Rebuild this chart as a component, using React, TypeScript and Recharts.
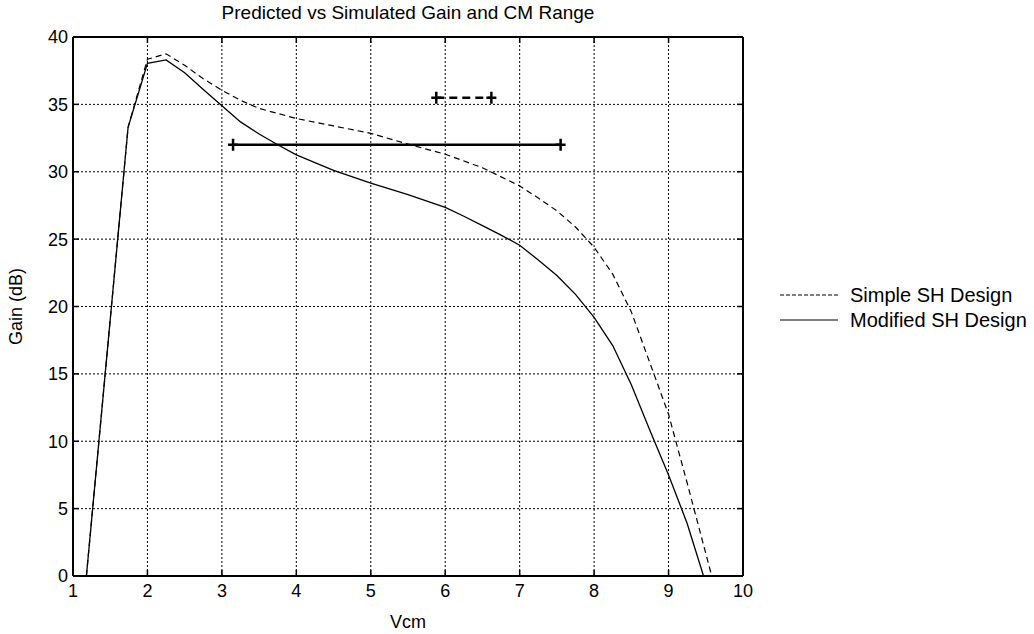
import React from 'react';
import { LineChart, Line, XAxis, YAxis, CartesianGrid, Legend, Label } from 'recharts';

const xTicks = [1, 2, 3, 4, 5, 6, 7, 8, 9, 10];
const yTicks = [0, 5, 10, 15, 20, 25, 30, 35, 40];

const simpleVcm = [1.18, 1.74, 2, 2.25, 2.5, 2.75, 3, 3.25, 3.5, 4, 4.5, 5, 5.5, 6, 6.5, 7, 7.25, 7.5, 7.75, 8, 8.25, 8.5, 8.75, 9, 9.25, 9.58];
const simpleGain = [0, 33.3, 38.35, 38.75, 37.9, 36.9, 36.05, 35.3, 34.7, 33.95, 33.4, 32.85, 32.05, 31.3, 30.3, 28.95, 28.05, 27.1, 25.9, 24.4, 22.4, 19.6, 15.8, 12.0, 6.9, 0];

const modifiedVcm = [1.18, 1.74, 2, 2.25, 2.5, 2.75, 3, 3.25, 3.5, 3.75, 4, 4.5, 5, 5.5, 6, 6.25, 6.5, 6.75, 7, 7.25, 7.5, 7.75, 8, 8.25, 8.5, 8.75, 9, 9.25, 9.47];
const modifiedGain = [0, 33.3, 38.05, 38.3, 37.35, 36.1, 34.9, 33.7, 32.8, 32.0, 31.25, 30.1, 29.15, 28.3, 27.35, 26.7, 26.0, 25.3, 24.55, 23.45, 22.3, 20.9, 19.2, 17.1, 14.2, 10.8, 7.5, 3.9, 0];

const simpleRangeVcm = [5.88, 6.62];
const simpleRangeGain = [35.5, 35.5];
const modifiedRangeVcm = [3.15, 7.55];
const modifiedRangeGain = [32, 32];

const seriesNames = ['Simple SH Design', 'Modified SH Design'];

const toRows = (xs: number[], ys: number[]) => xs.map((x, i) => ({ x, y: ys[i] }));

const simpleData = toRows(simpleVcm, simpleGain);
const modifiedData = toRows(modifiedVcm, modifiedGain);
const simpleRange = toRows(simpleRangeVcm, simpleRangeGain);
const modifiedRange = toRows(modifiedRangeVcm, modifiedRangeGain);

const PlusDot = (props: any) => {
  const { cx, cy } = props;
  if (cx == null || cy == null) return null;
  return (
    <path
      d={`M${cx - 5},${cy}h10M${cx},${cy - 6}v12`}
      stroke="#000"
      strokeWidth={2.5}
      strokeDasharray="none"
      fill="none"
    />
  );
};

const dashFor: Record<string, string> = {
  'Simple SH Design': '4 2',
  'Modified SH Design': 'none',
};

const LegendContent = (props: any) => {
  const items = (props.payload || [])
    .filter((p: any) => seriesNames.includes(p.value))
    .sort((a: any, b: any) => seriesNames.indexOf(a.value) - seriesNames.indexOf(b.value));
  return (
    <svg width={254} height={60}>
      {items.map((p: any, i: number) => (
        <g key={p.value}>
          <line x1={0} x2={58} y1={12 + i * 25} y2={12 + i * 25} stroke="#000" strokeWidth={1.2} strokeDasharray={dashFor[p.value]} />
          <text x={70} y={12 + i * 25} dy="0.35em" fontSize={20} fill="#000">{p.value}</text>
        </g>
      ))}
    </svg>
  );
};

const axisLine = { stroke: '#000', strokeWidth: 2 };
const tickLine = { stroke: '#000', strokeWidth: 1.5 };
const blank = () => '';

export default function App() {
  return (
    <div style={{ position: 'absolute', left: 0, top: 0, width: 1034, height: 634, background: '#fff', fontFamily: '"Liberation Sans", Arial, sans-serif' }}>
      <LineChart width={1034} height={634} margin={{ top: 32, right: 286, bottom: 28, left: 33 }}>
        <CartesianGrid stroke="#000" strokeWidth={1} strokeDasharray="2 2" />
        <XAxis
          type="number"
          dataKey="x"
          domain={[1, 10]}
          ticks={xTicks}
          allowDataOverflow
          height={30}
          tickSize={-6}
          tickMargin={14}
          axisLine={axisLine}
          tickLine={tickLine}
          tick={{ fill: '#000', fontSize: 18 }}
        >
          <Label value="Vcm" position="center" dy={31} fill="#000" fontSize={18} />
        </XAxis>
        <XAxis
          xAxisId="top"
          orientation="top"
          type="number"
          dataKey="x"
          domain={[1, 10]}
          ticks={xTicks}
          allowDataOverflow
          height={5}
          tickSize={-6}
          tickMargin={0}
          axisLine={axisLine}
          tickLine={tickLine}
          tickFormatter={blank}
        >
          <Label value="Predicted vs Simulated Gain and CM Range" position="center" dy={-22} fill="#000" fontSize={19} />
        </XAxis>
        <YAxis
          type="number"
          domain={[0, 40]}
          ticks={yTicks}
          allowDataOverflow
          width={40}
          tickSize={-6}
          tickMargin={11}
          axisLine={axisLine}
          tickLine={tickLine}
          tick={{ fill: '#000', fontSize: 18 }}
        >
          <Label value="Gain (dB)" position="center" angle={-90} dx={-37} fill="#000" fontSize={18} />
        </YAxis>
        <YAxis
          yAxisId="right"
          orientation="right"
          type="number"
          domain={[0, 40]}
          ticks={yTicks}
          allowDataOverflow
          width={5}
          tickSize={-6}
          tickMargin={0}
          axisLine={axisLine}
          tickLine={tickLine}
          tickFormatter={blank}
        />
        <Line data={simpleData} dataKey="y" name="Simple SH Design" stroke="#000" strokeWidth={1.2} strokeDasharray="6 4" dot={false} isAnimationActive={false} type="linear" />
        <Line data={modifiedData} dataKey="y" name="Modified SH Design" stroke="#000" strokeWidth={1.3} dot={false} isAnimationActive={false} type="linear" />
        <Line data={simpleRange} dataKey="y" name="Simple range" stroke="#000" strokeWidth={2.5} strokeDasharray="8 5" dot={<PlusDot />} legendType="none" isAnimationActive={false} type="linear" />
        <Line data={modifiedRange} dataKey="y" name="Modified range" stroke="#000" strokeWidth={2.5} dot={<PlusDot />} legendType="none" isAnimationActive={false} type="linear" />
        <Legend
          layout="vertical"
          align="center"
          verticalAlign="middle"
          content={<LegendContent />}
          wrapperStyle={{ position: 'absolute', left: 780, top: 283, width: 254, height: 60 }}
        />
      </LineChart>
    </div>
  );
}
